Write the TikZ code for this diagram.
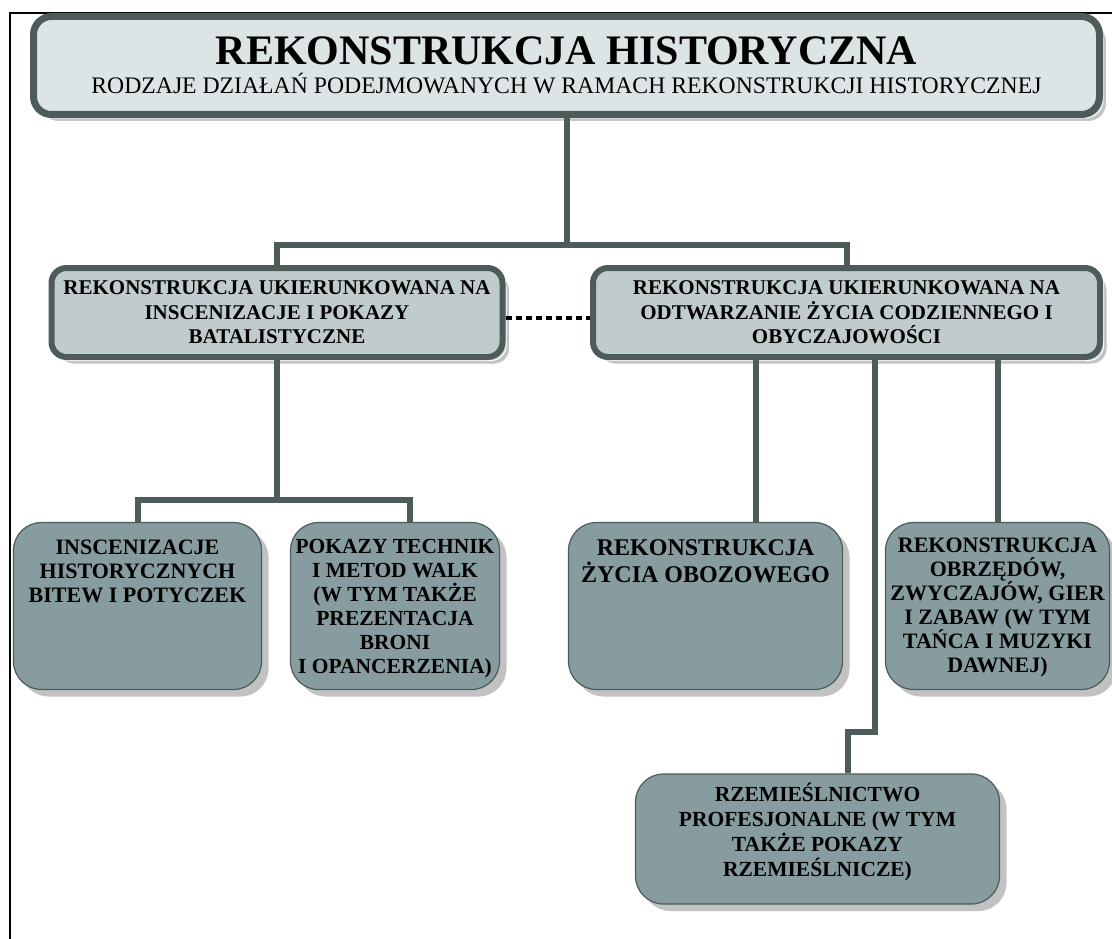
\documentclass[tikz,border=0pt]{standalone}
\usepackage{fontspec}
\setmainfont{Liberation Serif}
\usetikzlibrary{shadows}

\definecolor{edgegray}{HTML}{4D5B5B}
\definecolor{topfill}{HTML}{DDE4E5}
\definecolor{midfill}{HTML}{BFCBCC}
\definecolor{lowfill}{HTML}{869C9E}
\definecolor{shadowgray}{HTML}{C2C2C2}

% top-aligned, centred body of fixed height
\newcommand{\stackbody}[3]{\parbox[c][#1][t]{#2}{\centering #3}}

\begin{document}
\begin{tikzpicture}[x=1pt,y=-1pt,
  twoshadow/.style={
    general shadow={fill=shadowgray, draw=white, line width=1pt,
                    shadow xshift=7pt, shadow yshift=-7pt},
    general shadow={fill=shadowgray, draw=white, line width=1pt,
                    shadow xshift=3.5pt, shadow yshift=-3.5pt}},
  topbox/.style={draw=edgegray, line width=7pt, fill=topfill,
    rounded corners=18pt, inner sep=0pt, align=center, twoshadow},
  midbox/.style={draw=edgegray, line width=6pt, fill=midfill,
    rounded corners=15pt, inner sep=0pt, align=center, twoshadow,
    font=\fontsize{21}{24.5}\selectfont\bfseries},
  lowbox/.style={draw=edgegray, line width=1.2pt, fill=lowfill,
    rounded corners=28pt, inner xsep=0pt,
    general shadow={fill=shadowgray, shadow xshift=7pt, shadow yshift=-7pt},
    font=\fontsize{22}{24}\selectfont\bfseries},
  conn/.style={draw=edgegray, line width=6pt},
  dotline/.style={draw=black, line width=4pt, dash pattern=on 6pt off 4pt},
  frameline/.style={draw=black, line width=2pt}]

\useasboundingbox (0,0) rectangle (1112,939);

% page frame
\coordinate (frTL) at (10,13);
\coordinate (frBL) at (10,939);
\coordinate (frTR) at (1112,13);
\draw[frameline] (frBL) -- (frTL) -- (frTR);

% title
\node[topbox, minimum width=1066pt, minimum height=98pt] (top) at (566.5,65.5)
  {{\fontsize{42}{44}\selectfont\bfseries REKONSTRUKCJA HISTORYCZNA}\\[7pt]
   {\fontsize{23.7}{26}\selectfont RODZAJE DZIAŁAŃ PODEJMOWANYCH W RAMACH REKONSTRUKCJI HISTORYCZNEJ}};

% second level
\node[midbox, minimum width=451pt, minimum height=89pt] (midL) at (277,312.5)
  {REKONSTRUKCJA UKIERUNKOWANA NA\\INSCENIZACJE I POKAZY\\BATALISTYCZNE};
\node[midbox, minimum width=507pt, minimum height=89pt] (midR) at (846.5,312.5)
  {REKONSTRUKCJA UKIERUNKOWANA NA\\ODTWARZANIE ŻYCIA CODZIENNEGO I\\OBYCZAJOWOŚCI};

% third level
\node[lowbox, minimum width=248pt, inner ysep=17pt] (boxA) at (137.5,606)
  {\stackbody{133pt}{240pt}{INSCENIZACJE\\HISTORYCZNYCH\\BITEW I POTYCZEK}};
\node[lowbox, minimum width=209pt, inner ysep=17pt,
      font=\fontsize{21.5}{24}\selectfont\bfseries] (boxB) at (395,606)
  {\stackbody{133pt}{205pt}{POKAZY TECHNIK\\I METOD WALK\\(W TYM TAKŻE\\PREZENTACJA\\BRONI\\I OPANCERZENIA)}};
\node[lowbox, minimum width=274pt, inner ysep=17pt,
      font=\fontsize{24}{27}\selectfont\bfseries] (boxC) at (705.5,606)
  {\stackbody{133pt}{265pt}{REKONSTRUKCJA\\ŻYCIA OBOZOWEGO}};
\node[lowbox, minimum width=224pt, inner ysep=15pt] (boxD) at (997.5,606)
  {\stackbody{137pt}{224pt}{REKONSTRUKCJA\\OBRZĘDÓW,\\ZWYCZAJÓW, GIER\\I ZABAW (W TYM\\TAŃCA I MUZYKI\\DAWNEJ)}};
\node[lowbox, minimum width=364pt, inner ysep=9pt,
      font=\fontsize{21.5}{25}\selectfont\bfseries] (boxE) at (817.5,839)
  {\stackbody{112pt}{340pt}{RZEMIEŚLNICTWO\\PROFESJONALNE (W TYM\\TAKŻE POKAZY\\RZEMIEŚLNICZE)}};

% connector levels and branch points
\coordinate (barA) at (0,245);
\coordinate (barB) at (0,500);
\coordinate (barE) at (0,732);
\coordinate (tapB) at (410,0);
\coordinate (tapC) at (756,0);
\coordinate (tapE) at (875,0);
\coordinate (tapE2) at (848,0);

% title to second level
\draw[conn] (top.south) -- (top.south |- barA);
\draw[conn] (midL.north) -- (midL.north |- barA) -- (midR.north |- barA) -- (midR.north);

% left branch
\draw[conn] (midL.south) -- (midL.south |- barB);
\draw[conn] (boxA.north) -- (boxA.north |- barB) -- (tapB |- barB) -- (tapB |- boxB.north);

% right branch
\draw[conn] (tapC |- midR.south) -- (tapC |- boxC.north);
\draw[conn] (boxD.north |- midR.south) -- (boxD.north);
\draw[conn] (tapE |- midR.south) -- (tapE |- barE) -- (tapE2 |- barE) -- (tapE2 |- boxE.north);

% link between the two kinds
\draw[dotline] ([yshift=-5.5pt]midL.east) -- ([yshift=-5.5pt]midR.west);

\end{tikzpicture}
\end{document}
